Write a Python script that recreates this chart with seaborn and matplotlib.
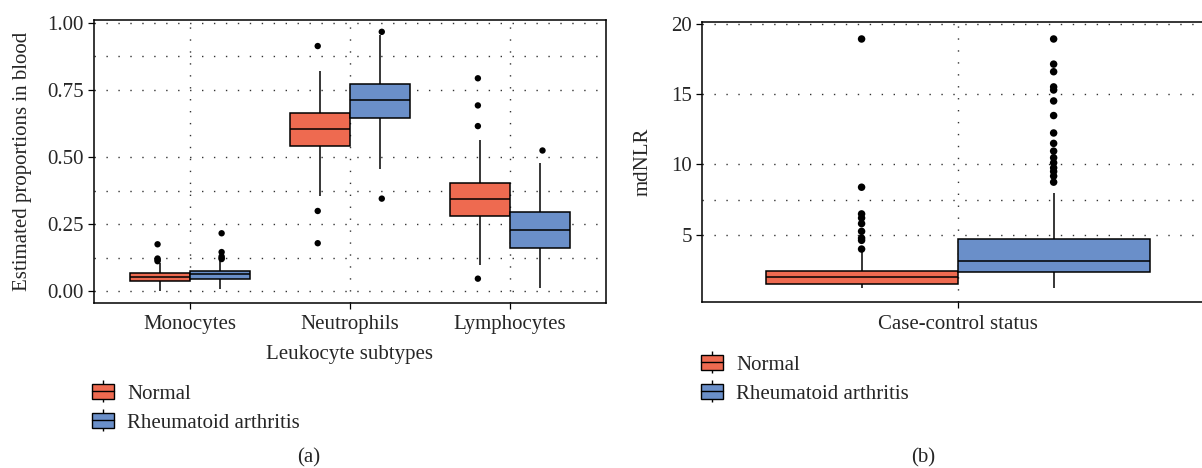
import numpy as np
import pandas as pd
import seaborn as sns
import matplotlib.pyplot as plt
from matplotlib.lines import Line2D
from matplotlib.patches import Rectangle
from matplotlib.legend_handler import HandlerTuple
from matplotlib.ticker import MultipleLocator, FixedLocator

groups = ["Normal", "Rheumatoid arthritis"]
colors = ["#EE6A50", "#6A8FC9"]

# (a) leukocyte subtypes: lower whisker, q1, median, q3, upper whisker
cells = ["Monocytes", "Neutrophils", "Lymphocytes"]
cell_normal = [[0.000, 0.038, 0.055, 0.068, 0.105],
               [0.354, 0.540, 0.605, 0.665, 0.820],
               [0.099, 0.280, 0.344, 0.404, 0.565]]
cell_ra = [[0.009, 0.047, 0.063, 0.076, 0.115],
           [0.457, 0.646, 0.711, 0.770, 0.955],
           [0.014, 0.160, 0.228, 0.297, 0.476]]
cell_out_normal = [[0.175, 0.122, 0.117, 0.112],
                   [0.913, 0.299, 0.179],
                   [0.793, 0.692, 0.615, 0.047]]
cell_out_ra = [[0.216, 0.146, 0.130, 0.124, 0.120],
               [0.966, 0.345],
               [0.526]]

# (b) mdNLR
nlr_normal = [1.20, 1.50, 2.00, 2.43, 3.80]
nlr_ra = [1.24, 2.33, 3.10, 4.71, 8.00]
nlr_out_normal = [3.98, 4.60, 4.76, 5.24, 5.79, 6.19, 6.48, 8.38, 18.93]
nlr_out_ra = [8.74, 9.17, 9.50, 9.76, 10.12, 10.48, 10.95, 11.50, 12.24,
              13.48, 14.52, 15.30, 15.52, 16.60, 17.14, 18.93]


def long_table(per_group, xs):
    rows = []
    for g, series in zip(groups, per_group):
        for x, vals in zip(xs, series):
            rows += [(x, g, v) for v in vals]
    return pd.DataFrame(rows, columns=["x", "group", "value"])


box_a = long_table([cell_normal, cell_ra], cells)
pts_a = long_table([cell_out_normal, cell_out_ra], cells)
box_b = long_table([[nlr_normal], [nlr_ra]], [""])
pts_b = long_table([[nlr_out_normal], [nlr_out_ra]], [""])

sns.set_theme(style="white")
plt.rcParams["font.family"] = ["Liberation Serif", "DejaVu Serif"]
FS = 15

W, H = 1202, 468
fig = plt.figure(figsize=(W / 100, H / 100), dpi=100)


def px_axes(l, t, r, b):
    return fig.add_axes([l / W, 1 - b / H, (r - l) / W, (b - t) / H])


ax1 = px_axes(93.5, 20, 606, 303)
ax2 = px_axes(701.7, 21.7, 1214, 302.3)

pal = dict(zip(groups, colors))
black = dict(zip(groups, ["black", "black"]))
box_kw = dict(x="x", y="value", hue="group", hue_order=groups, palette=pal,
              whis=(0, 100), showfliers=False, showcaps=False,
              saturation=1, linecolor="black", linewidth=1.1, legend=False)
pt_kw = dict(x="x", y="value", hue="group", hue_order=groups, palette=black,
             dodge=True, jitter=False, linewidth=0, legend=False)

sns.boxplot(data=box_a, order=cells, width=0.75, ax=ax1, **box_kw)
sns.stripplot(data=pts_a, order=cells, size=4.6, ax=ax1, **pt_kw)

# width 0.8 keeps the dodged outliers on the whiskers
sns.boxplot(data=box_b, width=0.8, ax=ax2, **box_kw)
sns.stripplot(data=pts_b, size=5.4, ax=ax2, **pt_kw)

ax1.set_xlim(-0.6, 2.6)
ax1.set_ylim(-0.0436, 1.010)
ax1.yaxis.set_major_locator(FixedLocator([0, 0.25, 0.5, 0.75, 1.0]))
ax1.yaxis.set_major_formatter(plt.FuncFormatter(lambda v, p: f"{v:.2f}"))
ax1.yaxis.set_minor_locator(FixedLocator([0.125, 0.375, 0.875]))

ax2.set_xlim(-0.533, 0.534)
ax2.set_ylim(0.19, 20.16)
ax2.yaxis.set_major_locator(MultipleLocator(5))
ax2.yaxis.set_minor_locator(FixedLocator([7.5]))
ax2.set_xticks([0])
ax2.set_xticklabels([""])

dot = dict(linestyle=(0, (1, 7.6)), linewidth=1.0, color="#333333")
for ax in (ax1, ax2):
    ax.set_axisbelow(True)
    ax.grid(which="both", axis="y", **dot)
    ax.grid(which="major", axis="x", **dot)
    for s in ax.spines.values():
        s.set_visible(True)
        s.set_color("black")
        s.set_linewidth(1.1)
    ax.tick_params(which="major", direction="out", length=4, width=0.9,
                   color="black", labelsize=FS, left=True, bottom=True)
    ax.tick_params(which="minor", length=0)
    ax.tick_params(axis="x", pad=5)
    ax.tick_params(axis="y", pad=3)

ax1.set_xlabel("Leukocyte subtypes", fontsize=FS)
ax1.xaxis.set_label_coords(0.5, -0.148)
ax1.set_ylabel("Estimated proportions in blood", fontsize=FS)
ax1.yaxis.set_label_coords(-0.12, 0.5)

ax2.set_xlabel("Case-control status", fontsize=FS)
ax2.xaxis.set_label_coords(0.5, -0.046)
ax2.set_ylabel("mdNLR", fontsize=FS)
ax2.yaxis.set_label_coords(-0.095, 0.5)


def legend_handles():
    hs = []
    for c in colors:
        whisker = Line2D([], [], color="black", marker="|", markersize=16,
                         markeredgewidth=1.0, linestyle="None")
        box = Rectangle((0, 0), 1, 1, facecolor=c, edgecolor="black", linewidth=1.0)
        median = Line2D([], [], color="black", linewidth=1.0)
        hs.append((whisker, box, median))
    return hs


leg_kw = dict(loc="upper left", frameon=False, borderaxespad=0, borderpad=0,
              handlelength=1.05, handleheight=0.7, handletextpad=0.65,
              labelspacing=0.45, fontsize=FS, numpoints=1,
              handler_map={tuple: HandlerTuple(ndivide=1, pad=0)})
fig.legend(legend_handles(), groups, bbox_to_anchor=(92 / W, 1 - 384 / H), **leg_kw)
fig.legend(legend_handles(), groups, bbox_to_anchor=(701 / W, 1 - 355 / H), **leg_kw)

fig.text(309 / W, 1 - 458 / H, "(a)", ha="center", va="center", fontsize=FS)
fig.text(923 / W, 1 - 458 / H, "(b)", ha="center", va="center", fontsize=FS)

fig.savefig("out.png", dpi=100)
